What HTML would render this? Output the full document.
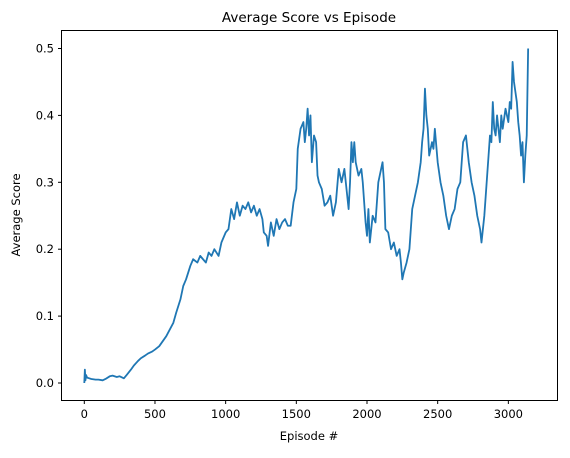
<!DOCTYPE html>
<html><head><meta charset="utf-8"><style>
body{margin:0;background:#fff;}
svg text{font-family:"DejaVu Sans","Liberation Sans",sans-serif;fill:#000;}
</style></head><body>
<svg id="chart" width="570" height="453">
<rect x="0" y="0" width="570" height="453" fill="#fff"/>
<text x="309" y="22" font-size="13.5" text-anchor="middle">Average Score vs Episode</text>
<g id="plot"></g>
<rect x="61.5" y="30.5" width="496" height="370" fill="none" stroke="#000" stroke-width="1"/>
<g id="xt"></g>
<g id="yt"></g>
<text x="309" y="440" font-size="11.5" text-anchor="middle">Episode #</text>
<text x="20" y="215" font-size="11.5" text-anchor="middle" transform="rotate(-90 20 215)">Average Score</text>
</svg>
<script>
const episodes=[0,4,8,12,20,35,50,80,100,130,
150,180,200,230,250,280,300,330,350,380,
400,430,450,480,500,530,550,580,600,630,
650,680,700,720,750,770,800,820,840,860,
880,900,920,950,970,1000,1020,1040,1060,1080,
1100,1120,1140,1160,1180,1200,1220,1240,1260,1270,
1290,1300,1320,1340,1360,1380,1400,1420,1440,1460,
1480,1500,1510,1530,1550,1560,1570,1580,1590,1600,
1610,1625,1640,1650,1660,1680,1700,1720,1740,1760,
1780,1800,1820,1840,1860,1870,1880,1890,1900,1910,
1920,1940,1960,1970,1980,1990,2000,2010,2020,2040,
2060,2080,2100,2110,2120,2130,2150,2170,2190,2210,
2230,2240,2250,2260,2280,2300,2320,2340,2360,2380,
2390,2400,2410,2420,2430,2440,2460,2470,2480,2500,
2520,2540,2560,2570,2580,2600,2620,2640,2660,2670,
2680,2700,2720,2740,2760,2780,2800,2810,2830,2850,
2860,2870,2880,2890,2900,2910,2920,2940,2950,2960,
2980,3000,3010,3020,3030,3040,3060,3070,3080,3090,
3100,3110,3120,3130,3140];
const scores=[0,0.02,0.004,0.012,0.008,0.007,0.006,0.005,0.005,0.004,
0.006,0.01,0.011,0.009,0.01,0.007,0.012,0.02,0.026,0.033,
0.037,0.041,0.044,0.047,0.05,0.055,0.061,0.07,0.078,0.09,
0.105,0.125,0.145,0.155,0.175,0.185,0.18,0.19,0.185,0.18,
0.195,0.19,0.2,0.19,0.21,0.225,0.23,0.26,0.245,0.27,
0.25,0.265,0.26,0.27,0.255,0.265,0.25,0.26,0.245,0.225,
0.22,0.205,0.24,0.22,0.245,0.23,0.24,0.245,0.235,0.235,
0.27,0.29,0.35,0.38,0.39,0.36,0.38,0.41,0.37,0.40,
0.33,0.37,0.36,0.31,0.30,0.29,0.265,0.27,0.28,0.25,
0.27,0.32,0.30,0.32,0.28,0.26,0.30,0.36,0.33,0.36,
0.33,0.31,0.32,0.30,0.27,0.24,0.22,0.26,0.21,0.25,
0.24,0.30,0.32,0.33,0.30,0.23,0.225,0.20,0.21,0.19,
0.20,0.18,0.155,0.165,0.18,0.20,0.26,0.28,0.30,0.33,
0.36,0.38,0.44,0.40,0.38,0.34,0.36,0.35,0.38,0.33,
0.30,0.28,0.25,0.24,0.23,0.25,0.26,0.29,0.30,0.33,
0.36,0.37,0.33,0.30,0.28,0.25,0.23,0.21,0.25,0.31,
0.34,0.37,0.36,0.42,0.38,0.37,0.40,0.36,0.40,0.38,
0.41,0.39,0.42,0.41,0.48,0.45,0.42,0.39,0.37,0.34,
0.36,0.30,0.34,0.37,0.50];
const xTicks=[0,500,1000,1500,2000,2500,3000];
const yTicks=[0.0,0.1,0.2,0.3,0.4,0.5];
const NS="http://www.w3.org/2000/svg";
function xs(v){return 84.3+v*0.14135;}
function ys(v){return 383-v*669;}
const plot=document.getElementById('plot');
const n=Math.min(episodes.length,scores.length);
const pts=[];
for(let i=0;i<n;i++)pts.push(xs(episodes[i]).toFixed(2)+','+ys(scores[i]).toFixed(2));
const pl=document.createElementNS(NS,'polyline');
pl.setAttribute('points',pts.join(' '));
pl.setAttribute('fill','none');pl.setAttribute('stroke','#1f77b4');pl.setAttribute('stroke-width','1.8');pl.setAttribute('stroke-linejoin','round');


plot.appendChild(pl);
const xt=document.getElementById('xt');
xTicks.forEach(t=>{
 const l=document.createElementNS(NS,'line');l.setAttribute('x1',xs(t));l.setAttribute('x2',xs(t));l.setAttribute('y1',400.5);l.setAttribute('y2',404);l.setAttribute('stroke','#000');
 
 
 xt.appendChild(l);
 const tx=document.createElementNS(NS,'text');tx.setAttribute('x',xs(t));tx.setAttribute('y',418);tx.setAttribute('font-size','11.5');tx.setAttribute('text-anchor','middle');tx.textContent=t;
 
 
 xt.appendChild(tx);
});
const yt=document.getElementById('yt');
yTicks.forEach(t=>{
 const l=document.createElementNS(NS,'line');l.setAttribute('x1',58);l.setAttribute('x2',61.5);l.setAttribute('y1',ys(t));l.setAttribute('y2',ys(t));l.setAttribute('stroke','#000');
 
 
 yt.appendChild(l);
 const tx=document.createElementNS(NS,'text');tx.setAttribute('x',54);tx.setAttribute('y',ys(t)+4);tx.setAttribute('font-size','11.5');tx.setAttribute('text-anchor','end');tx.textContent=t.toFixed(1);
 
 
 yt.appendChild(tx);
});
</script>
</body></html>
